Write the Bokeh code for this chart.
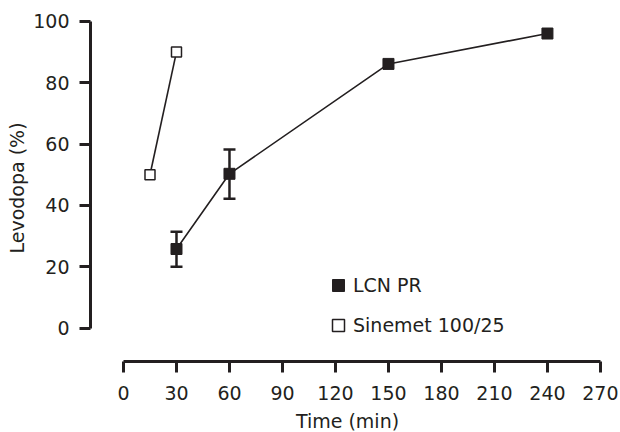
from bokeh.plotting import figure
from bokeh.models import ColumnDataSource, Whisker, TeeHead, Legend, LegendItem, Range1d, FixedTicker
from bokeh.embed import file_html
from bokeh.resources import INLINE

# Data
lcn_time = [30, 60, 150, 240]
lcn_levodopa = [25.8, 50.3, 86.1, 96.0]
lcn_err_lower = [20.0, 42.2, None, None]
lcn_err_upper = [31.4, 58.2, None, None]
sin_time = [15, 30]
sin_levodopa = [50.0, 90.0]
x_ticks = [0, 30, 60, 90, 120, 150, 180, 210, 240, 270]
y_ticks = [0, 20, 40, 60, 80, 100]

INK = "#231f20"
FONT = "DejaVu Sans"
FS = "19px"

p = figure(frame_width=514, frame_height=347, output_backend="svg", toolbar_location=None,
           x_range=Range1d(-18.68, 272.3), y_range=Range1d(-10.85, 102.2),
           min_border_left=90, min_border_right=14, min_border_top=14, min_border_bottom=0)
p.outline_line_color = None
p.grid.visible = False
p.background_fill_color = "white"

for ax in (p.xaxis[0], p.yaxis[0]):
    ax.axis_line_width = 3
    ax.axis_line_color = INK
    ax.major_tick_line_width = 3
    ax.major_tick_line_color = INK
    ax.major_tick_out = 11
    ax.major_tick_in = 0
    ax.minor_tick_line_color = None
    ax.major_label_text_font = FONT
    ax.major_label_text_font_size = FS
    ax.major_label_text_color = INK
    ax.axis_label_text_font = FONT
    ax.axis_label_text_font_size = FS
    ax.axis_label_text_font_style = "normal"
    ax.axis_label_text_color = INK

p.xaxis[0].bounds = (0, 270)
p.yaxis[0].bounds = (0, 100)
p.xaxis[0].ticker = FixedTicker(ticks=x_ticks)
p.yaxis[0].ticker = FixedTicker(ticks=y_ticks)
p.xaxis[0].axis_label = "Time (min)"
p.yaxis[0].axis_label = "Levodopa (%)"
p.xaxis[0].major_label_standoff = 13
p.xaxis[0].axis_label_standoff = 7
p.yaxis[0].major_label_standoff = 10
p.yaxis[0].axis_label_standoff = 2

lcn_src = ColumnDataSource(dict(x=lcn_time, y=lcn_levodopa))
sin_src = ColumnDataSource(dict(x=sin_time, y=sin_levodopa))
err_idx = [i for i, v in enumerate(lcn_err_lower) if v is not None]
err_src = ColumnDataSource(dict(x=[lcn_time[i] for i in err_idx],
                                lower=[lcn_err_lower[i] for i in err_idx],
                                upper=[lcn_err_upper[i] for i in err_idx]))

p.line("x", "y", source=lcn_src, line_color=INK, line_width=1.6)
p.line("x", "y", source=sin_src, line_color=INK, line_width=1.6)

wh = Whisker(base="x", lower="lower", upper="upper", source=err_src,
             line_color=INK, line_width=2.5,
             upper_head=TeeHead(size=12, line_color=INK, line_width=2.5),
             lower_head=TeeHead(size=12, line_color=INK, line_width=2.5))
p.add_layout(wh)

r_lcn = p.scatter("x", "y", source=lcn_src, marker="square", size=11,
                  fill_color=INK, line_color=INK, line_width=1)
r_sin = p.scatter("x", "y", source=sin_src, marker="square", size=10,
                  fill_color="white", line_color=INK, line_width=1.5)

legend = Legend(items=[LegendItem(label="LCN PR", renderers=[r_lcn]),
                       LegendItem(label="Sinemet 100/25", renderers=[r_sin])],
                location=(233, 21), padding=0, margin=0, spacing=10,
                glyph_width=30, glyph_height=30, label_standoff=0,
                border_line_color=None, background_fill_alpha=0,
                label_text_font=FONT, label_text_font_size=FS, label_text_color=INK)
p.add_layout(legend)

open("out.html", "w").write(file_html(p, INLINE))
